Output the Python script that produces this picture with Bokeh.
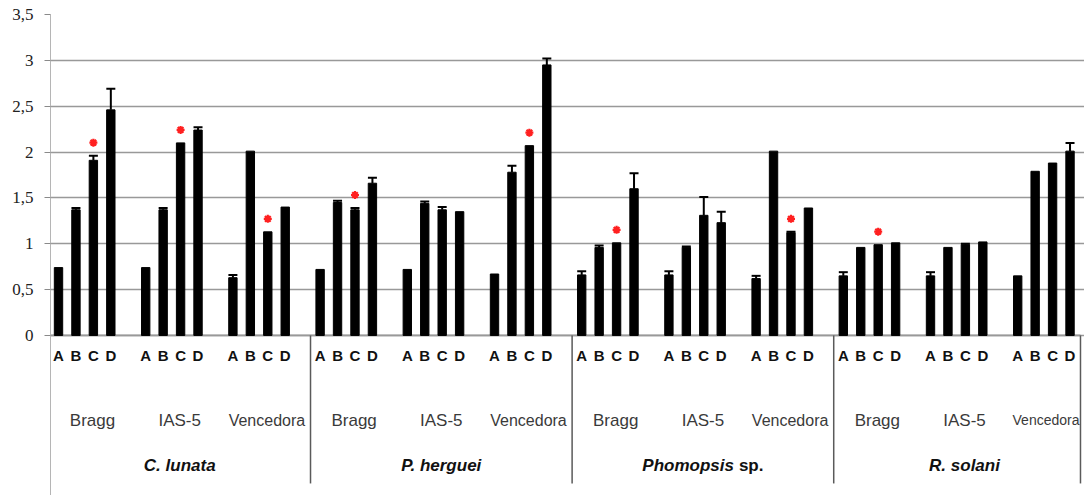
import numpy as np
from bokeh.plotting import figure
from bokeh.models import Range1d, FixedTicker
from bokeh.core.properties import value
from bokeh.embed import file_html
from bokeh.resources import INLINE

# ---------------- data ----------------
species = ["C. lunata", "P. herguei", "Phomopsis sp.", "R. solani"]
cultivars = ["Bragg", "IAS-5", "Vencedora"]
treatments = ["A", "B", "C", "D"]

# means, per species: Bragg A-D, IAS-5 A-D, Vencedora A-D
c_lunata  = [0.74, 1.37, 1.91, 2.46,  0.74, 1.37, 2.10, 2.24,  0.63, 2.01, 1.13, 1.40]
p_herguei = [0.72, 1.45, 1.37, 1.66,  0.72, 1.44, 1.37, 1.35,  0.67, 1.78, 2.07, 2.95]
phomopsis = [0.66, 0.96, 1.01, 1.60,  0.66, 0.96, 1.31, 1.23,  0.62, 2.01, 1.12, 1.39]
r_solani  = [0.65, 0.96, 0.99, 1.01,  0.65, 0.96, 0.99, 1.02,  0.65, 1.79, 1.88, 2.01]

# upper error bars
c_lunata_err  = [0.00, 0.02, 0.05, 0.23,  0.00, 0.02, 0.00, 0.03,  0.03, 0.00, 0.00, 0.00]
p_herguei_err = [0.00, 0.02, 0.02, 0.06,  0.00, 0.02, 0.03, 0.00,  0.00, 0.07, 0.00, 0.07]
phomopsis_err = [0.04, 0.02, 0.00, 0.17,  0.04, 0.01, 0.20, 0.12,  0.03, 0.00, 0.01, 0.00]
r_solani_err  = [0.04, 0.00, 0.00, 0.00,  0.04, 0.00, 0.01, 0.00,  0.00, 0.00, 0.00, 0.09]

# significance asterisks (on treatment C) per species x cultivar
c_lunata_star  = [1, 1, 1]
p_herguei_star = [1, 0, 1]
phomopsis_star = [1, 0, 1]
r_solani_star  = [1, 0, 0]

y_ticks = [0, 0.5, 1, 1.5, 2, 2.5, 3, 3.5]
y_tick_labels = ["0", "0,5", "1", "1,5", "2", "2,5", "3", "3,5"]

# ---------------- layout helpers ----------------
all_vals = c_lunata + p_herguei + phomopsis + r_solani
all_err = c_lunata_err + p_herguei_err + phomopsis_err + r_solani_err
all_star = c_lunata_star + p_herguei_star + phomopsis_star + r_solani_star

n_groups = len(species) * len(cultivars)
xs, letters = [], []
for g in range(n_groups):
    for i, t in enumerate(treatments):
        xs.append(g * 5 + i)
        letters.append(t)
vals = np.array(all_vals)
errs = np.array(all_err)
xs = np.array(xs, dtype=float)

PX = 91.7          # pixels per unit on y
X0, X1 = -0.459, 58.83
RIGHT_SEP = 58.6

p = figure(width=1084, height=495, output_backend="svg", toolbar_location=None,
           x_range=Range1d(X0, X1), y_range=Range1d(3.5 - 481 / PX, 3.5),
           x_axis_location=None, min_border_left=50, min_border_right=0,
           min_border_top=14, min_border_bottom=0)
p.outline_line_color = None
p.xgrid.visible = False
p.ygrid.ticker = FixedTicker(ticks=y_ticks)
p.ygrid.grid_line_color = "#999999"
p.ygrid.grid_line_width = 1.7

p.yaxis.ticker = FixedTicker(ticks=y_ticks)
p.yaxis.major_label_overrides = {t: l for t, l in zip(y_ticks, y_tick_labels)}
p.yaxis.axis_line_color = "#b5b5b5"
p.yaxis.axis_line_width = 1
p.yaxis.major_tick_line_color = "#8a8a8a"
p.yaxis.major_tick_in = 0
p.yaxis.major_tick_out = 6
p.yaxis.minor_tick_line_color = None
p.yaxis.major_label_standoff = 11
p.yaxis.major_label_text_font = "Liberation Serif"
p.yaxis.major_label_text_font_size = "17px"
p.yaxis.major_label_text_font_style = "normal"
p.yaxis.major_label_text_color = "#222222"

# x axis line at 0
p.segment(x0=[X0], y0=[0], x1=[RIGHT_SEP], y1=[0], line_color="#999999", line_width=1.7)

# bars
p.vbar(x=xs, top=vals, bottom=0, width=0.48, fill_color="black", line_color="black")

# error bars (upper only)
m = errs > 0
p.segment(x0=xs[m], y0=vals[m], x1=xs[m], y1=vals[m] + errs[m], line_color="black", line_width=2)
p.scatter(x=xs[m], y=vals[m] + errs[m], marker="dash", size=9, line_color="black", line_width=2)

# asterisks on treatment C
sx, sy = [], []
for g, s in enumerate(all_star):
    if s:
        k = g * 4 + 2
        sx.append(xs[k])
        sy.append(vals[k] + errs[k] + 13 / PX)
p.scatter(x=sx, y=sy, marker="asterisk", size=8, line_color="#ff2020", line_width=2.2)

SANS = value("Liberation Sans")

# treatment letters
p.text(x=xs, y=-20 / PX, text=letters, text_font=SANS, text_font_style="bold",
       text_font_size="15px", text_align="center", text_baseline="middle", text_color="#111111")

# cultivar labels
cx, ct, cs = [], [], []
for g in range(n_groups - 1):
    cx.append(g * 5 + 1.95)
    ct.append(cultivars[g % 3])
    cs.append("16px" if g % 3 == 2 else "17px")
p.text(x=cx, y=[-85 / PX] * len(cx), text=ct, text_font=SANS,
       text_font_size=cs, text_align="center", text_baseline="middle", text_color="#3a3a3a")
# last cultivar label is squeezed against the right border
p.text(x=[RIGHT_SEP], y=[-85 / PX], text=[cultivars[-1]], text_font=SANS,
       text_font_size="14px", text_align="right", text_baseline="middle", x_offset=-1,
       text_color="#3a3a3a")

# species labels
for s, name in enumerate(species):
    xc = s * 15 + 6.95
    if name.endswith(" sp."):
        p.text(x=[xc], y=[-130 / PX], text=[name[:-4]], text_font=SANS,
               text_font_style="bold italic", text_font_size="17px", text_align="right",
               text_baseline="middle", x_offset=31, text_color="#111111")
        p.text(x=[xc], y=[-130 / PX], text=[name[-3:]], text_font=SANS,
               text_font_style="bold", text_font_size="17px", text_align="left",
               text_baseline="middle", x_offset=36, text_color="#111111")
    else:
        p.text(x=[xc], y=[-130 / PX], text=[name], text_font=SANS,
               text_font_style="bold italic", text_font_size="17px", text_align="center",
               text_baseline="middle", text_color="#111111")

# species separators
sep_x = [s * 15 - 0.55 for s in range(1, len(species))] + [RIGHT_SEP]
p.segment(x0=sep_x, y0=[0] * len(sep_x), x1=sep_x, y1=[-148 / PX] * len(sep_x),
          line_color="#5a5a5a", line_width=1.5)

open("out.html", "w").write(file_html(p, INLINE))
